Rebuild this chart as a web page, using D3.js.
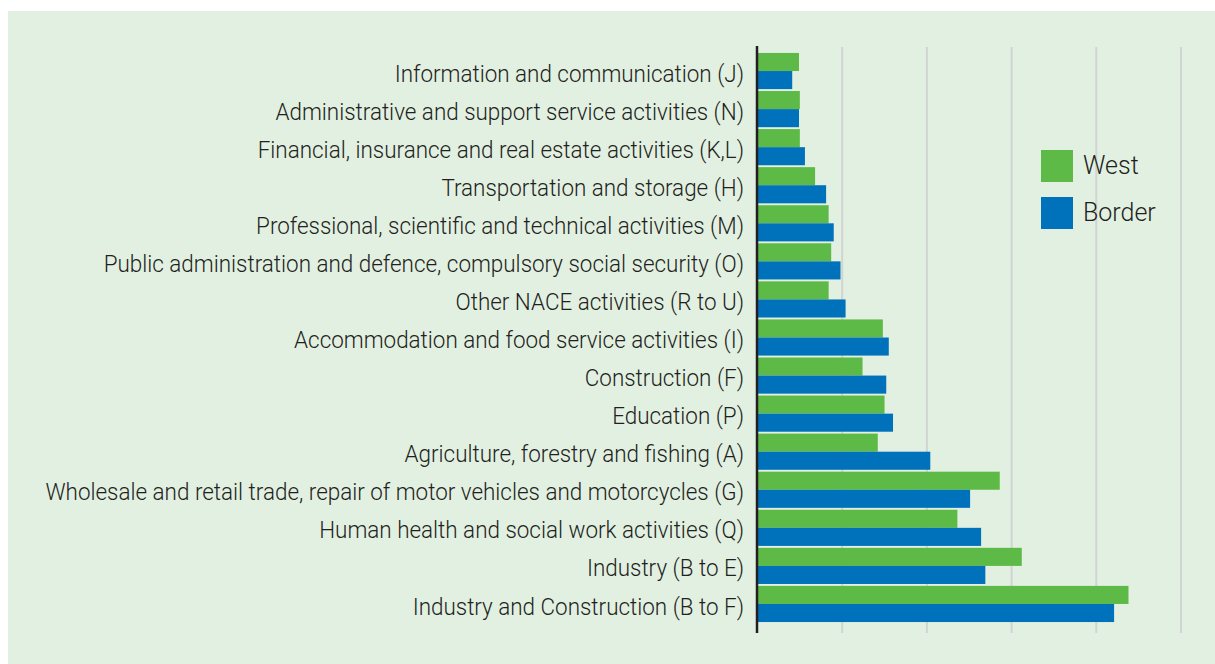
<!DOCTYPE html>
<html><head><meta charset="utf-8">
<script src="https://cdn.jsdelivr.net/npm/d3@7"></script>
<style>
html,body{margin:0;padding:0;background:#fff;}
svg{display:block;font-family:Roboto,"Noto Sans",sans-serif;}
</style></head>
<body>
<svg id="chart" width="1215" height="664"></svg>
<script>
const categories = [
  "Information and communication (J)",
  "Administrative and support service activities (N)",
  "Financial, insurance and real estate activities (K,L)",
  "Transportation and storage (H)",
  "Professional, scientific and technical activities (M)",
  "Public administration and defence, compulsory social security (O)",
  "Other NACE activities (R to U)",
  "Accommodation and food service activities (I)",
  "Construction (F)",
  "Education (P)",
  "Agriculture, forestry and fishing (A)",
  "Wholesale and retail trade, repair of motor vehicles and motorcycles (G)",
  "Human health and social work activities (Q)",
  "Industry (B to E)",
  "Industry and Construction (B to F)"
];
const seriesNames = ["West", "Border"];
const westValues   = [2.45, 2.5, 2.5, 3.4, 4.2, 4.35, 4.2, 7.4, 6.2, 7.5, 7.1, 14.3, 11.8, 15.6, 21.9];
const borderValues = [2.05, 2.45, 2.8, 4.05, 4.5, 4.9, 5.2, 7.75, 7.6, 8.0, 10.2, 12.55, 13.2, 13.45, 21.05];
const gridTicks = [0, 5, 10, 15, 20, 25];
const colors = ["#5dba46", "#0071bb"];

const svg = d3.select("#chart");
svg.append("rect").attr("x", 8).attr("y", 11).attr("width", 1207).attr("height", 653).attr("fill", "#e2f0e2");

const x = d3.scaleLinear().domain([0, 25]).range([757.5, 1181]);
const y = d3.scaleBand().domain(categories).range([52, 623]).paddingInner(0.05).paddingOuter(0.025);
const ySub = d3.scaleBand().domain(seriesNames).range([0, y.bandwidth()]);

// gridlines
svg.append("g").selectAll("line").data(gridTicks.slice(1)).join("line")
  .attr("x1", d => x(d)).attr("x2", d => x(d))
  .attr("y1", 47).attr("y2", 633)
  .attr("stroke", "#d2d3d3").attr("stroke-width", 2);

// bars
const rows = categories.map((c, i) => ({c, vals: [westValues[i], borderValues[i]]}));
const g = svg.append("g");
rows.forEach(r => {
  r.vals.forEach((v, j) => {
    g.append("rect")
      .attr("x", x(0))
      .attr("y", y(r.c) + ySub(seriesNames[j]))
      .attr("width", x(v) - x(0))
      .attr("height", ySub.bandwidth())
      .attr("fill", colors[j]);
  });
});

// axis line
svg.append("line").attr("x1", 757).attr("x2", 757).attr("y1", 46).attr("y2", 633)
  .attr("stroke", "#231f20").attr("stroke-width", 2.5);

// category labels
const labelG = svg.append("g");
const labels = labelG.selectAll("text").data(categories).join("text")
  .attr("y", d => y(d) + y.bandwidth() / 2)
  .attr("dy", "0.44em")
  .attr("text-anchor", "end")
  .attr("font-size", 24)
  .attr("font-weight", 300)
  .attr("fill", "#231f20")
  .text(d => d);
// compress horizontally to match the narrow typeface of the original
let maxW = 0;
labels.each(function(){ maxW = Math.max(maxW, this.getComputedTextLength()); });
const sx = 699 / maxW;
labels.attr("transform", `translate(744,0) scale(${sx},1)`);

// legend
const leg = svg.append("g");
seriesNames.forEach((s, i) => {
  leg.append("rect").attr("x", 1041).attr("y", 150 + i * 47).attr("width", 32).attr("height", 32).attr("fill", colors[i]);
  leg.append("text").attr("x", 1083).attr("y", 174 + i * 47).attr("font-size", 25).attr("font-weight", 300).attr("fill", "#231f20").text(s);
});
</script>
</body></html>
